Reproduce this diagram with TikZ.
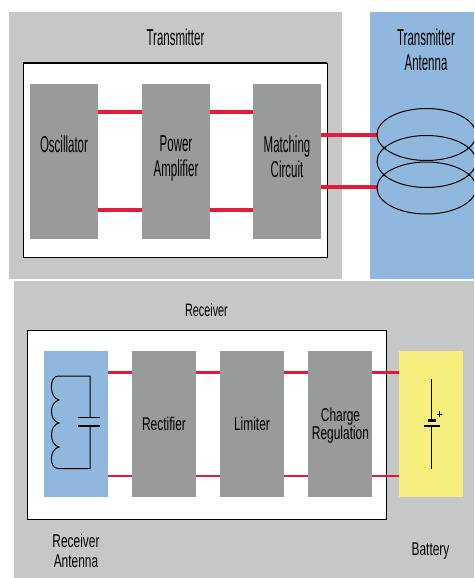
\documentclass[tikz,border=0pt]{standalone}
\usepackage{fontspec}
\setmainfont{Liberation Sans}
\newfontfamily\txfont[FakeStretch=0.5]{Liberation Sans}
\newfontfamily\rxfont[FakeStretch=0.6]{Liberation Sans}
\newfontfamily\rxblockfont[FakeStretch=0.645]{Liberation Sans}
\definecolor{panelgray}{RGB}{198,200,199}
\definecolor{blockgray}{RGB}{153,154,156}
\definecolor{antblue}{RGB}{144,184,222}
\definecolor{batyellow}{RGB}{246,238,125}
\definecolor{wirered}{RGB}{226,28,56}
\tikzset{
  panel/.style={fill=panelgray,draw=none,inner sep=0,outer sep=0,minimum width=#1},
  blockbox/.style={fill=blockgray,draw=none,inner sep=0,outer sep=0,minimum width=68pt,minimum height=155pt},
  rxbox/.style={fill=blockgray,draw=none,inner sep=0,outer sep=0,minimum width=64pt,minimum height=146pt,align=center,font=\rxblockfont\fontsize{18.5}{18}\selectfont},
  wirebig/.style={draw=wirered,line width=3.4pt},
  wiresmall/.style={draw=wirered,line width=2.8pt},
  label1/.style={align=center,inner sep=0,font=\txfont\fontsize{23}{25}\selectfont},
  label2/.style={align=center,inner sep=0,font=\rxblockfont\fontsize{18.5}{20}\selectfont},
  label3/.style={align=center,inner sep=0,font=\rxfont\fontsize{18}{20}\selectfont},
  sym/.style={draw=black,line width=1pt},
}
\begin{document}
\begin{tikzpicture}[x=1pt,y=-1pt]
\useasboundingbox (0,0) rectangle (474,578);
% panels
\node[panel=333pt,minimum height=267pt] (txpanel) at (175.5,145.5) {};
\node[panel=460pt,minimum height=297pt] (rxpanel) at (244,429.5) {};
\node[fill=antblue,inner sep=0,outer sep=0,minimum width=104pt,minimum height=267pt] (txant) at (422,145.5) {};
% white frames
\node[fill=white,draw=black,line width=0.8pt,inner sep=0,minimum width=304pt,minimum height=194pt] (txframe) at (175,160) {};
\draw[black,line width=1.8pt] (txframe.north west) -- (txframe.north east);
\draw[black,line width=1.8pt] (txframe.south west) -- (txframe.south east);
\node[fill=white,draw=black,line width=0.9pt,inner sep=0,minimum width=359pt,minimum height=189pt] (rxframe) at (206.5,424.5) {};
% transmitter blocks
\node[blockbox] (osc) at (64,161.5) {};
\node[blockbox] (amp) at (176,161.5) {};
\node[blockbox] (match) at (287,161.5) {};
\node[label1] (osctext) at (64,144) {Oscillator};
\node[label1] (amptext) at (176,158.5) {Power\\Amplifier};
\node[label1] (matchtext) at (287,157) {Matching\\Circuit};
\coordinate (ty1) at (0,112);
\coordinate (ty2) at (0,210);
\coordinate (ty3) at (0,135);
\coordinate (ty4) at (0,187);
\coordinate (coilL) at (377,0);
\draw[wirebig] (osc.east |- ty1) -- (amp.west |- ty1);
\draw[wirebig] (osc.east |- ty2) -- (amp.west |- ty2);
\draw[wirebig] (amp.east |- ty1) -- (match.west |- ty1);
\draw[wirebig] (amp.east |- ty2) -- (match.west |- ty2);
\draw[wirebig] (match.east |- ty3) -- (coilL |- ty3);
\draw[wirebig] (match.east |- ty4) -- (coilL |- ty4);
% coils
\begin{scope}
\clip (370,12) rectangle (474,279);
\draw[sym] (426.5,134.5) ellipse [x radius=49.5,y radius=26];
\draw[sym] (426.5,161.5) ellipse [x radius=49.5,y radius=26];
\draw[sym] (426.5,188) ellipse [x radius=49.5,y radius=26];
\end{scope}
% labels
\node[label1] (txlabel) at (175.5,37) {Transmitter};
\node[label1] (txantlabel) at (426,49.5) {Transmitter\\Antenna};
\node[label3] (rxlabel) at (206.5,310) {Receiver};
\node[label2] (rxantlabel) at (76,551) {Receiver\\Antenna};
\node[label2] (batlabel) at (430.5,551) {Battery};
% receiver blocks
\node[fill=antblue,inner sep=0,outer sep=0,minimum width=64pt,minimum height=146pt] (rxant) at (75.5,424) {};
\node[rxbox] (rect) at (164,424) {Rectifier};
\node[rxbox] (lim) at (252,424) {Limiter};
\node[rxbox] (charge) at (340,424) {};
\node[align=center,inner sep=0,font=\rxblockfont\fontsize{18.5}{18}\selectfont] (chargetext) at (340.5,426) {Charge\\Regulation};
\node[fill=batyellow,inner sep=0,outer sep=0,minimum width=64pt,minimum height=146pt] (bat) at (431,424) {};
\coordinate (ry1) at (0,372.5);
\coordinate (ry2) at (0,476);
\foreach \a/\b in {rxant/rect,rect/lim,lim/charge,charge/bat}{
  \draw[wiresmall] (\a.east |- ry1) -- (\b.west |- ry1);
  \draw[wiresmall] (\a.east |- ry2) -- (\b.west |- ry2);
}
% LC tank
\draw[sym] (90,417.5) -- (90,376) -- (58,376)
  .. controls (49,376) and (49,398) .. (59,400)
  .. controls (49,402) and (49,421) .. (59,423)
  .. controls (49,425) and (49,445) .. (59,447)
  .. controls (49,449) and (49,468.5) .. (58,468.5)
  -- (90,468.5) -- (90,426);
\draw[black,line width=1.6pt] (78,417.5) -- (100,417.5);
\draw[black,line width=1.4pt] (78,426) -- (100,426);
% battery symbol
\draw[sym] (431.7,379) -- (431.7,420);
\draw[black,line width=2.4pt] (428,420.5) -- (435.5,420.5);
\draw[black,line width=1.4pt] (424,426) -- (439.5,426);
\draw[sym] (431.7,426) -- (431.7,468.5);
\draw[black,line width=0.9pt] (436.7,414) -- (442.3,414) (439.5,411) -- (439.5,417);
\end{tikzpicture}
\end{document}
